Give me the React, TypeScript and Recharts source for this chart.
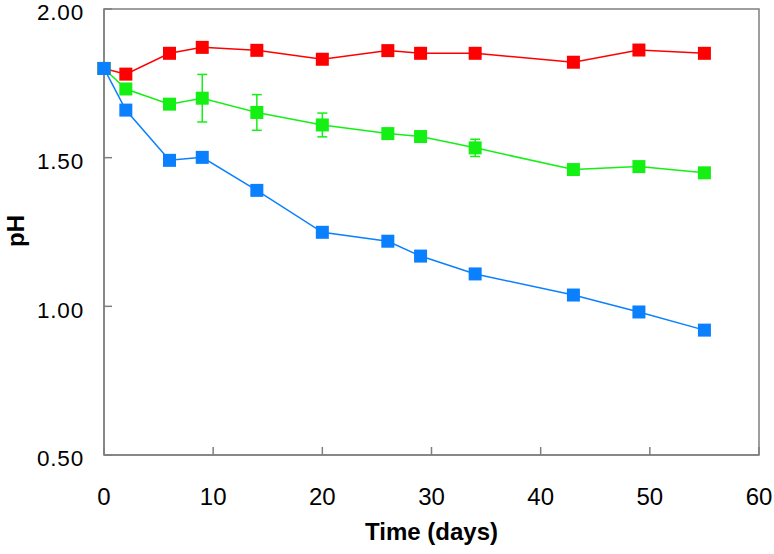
import React from 'react';
import { LineChart, Line, XAxis, YAxis, ErrorBar, ReferenceArea } from 'recharts';

const days = [0, 2, 6, 9, 14, 20, 26, 29, 34, 43, 49, 55];
const redPH = [1.8, 1.781, 1.851, 1.871, 1.861, 1.831, 1.86, 1.851, 1.851, 1.821, 1.862, 1.851];
const greenPH = [1.8, 1.731, 1.68, 1.7, 1.652, 1.61, 1.581, 1.571, 1.533, 1.46, 1.47, 1.449];
const greenErr = [0, 0, 0, 0.08, 0.06, 0.04, 0, 0, 0.029, 0, 0, 0];
const bluePH = [1.8, 1.66, 1.491, 1.501, 1.39, 1.249, 1.219, 1.169, 1.109, 1.038, 0.981, 0.92];
const xTicks = [0, 10, 20, 30, 40, 50, 60];
const yTicks = [0.5, 1.0, 1.5, 2.0];

const data = days.map((d, i) => ({
  day: d,
  red: redPH[i],
  green: greenPH[i],
  greenErr: greenErr[i],
  blue: bluePH[i],
}));

const RED = '#FF0000';
const GREEN = '#14F014';
const BLUE = '#0A80FF';
const FRAME = '#7f7f7f';
const FONT = '"Liberation Sans", Arial, sans-serif';

const square = (color: string) => (props: any) => {
  const { cx, cy, index } = props;
  if (cx == null || cy == null) return <g key={`d-${index}`} />;
  return <rect key={`d-${color}-${index}`} x={cx - 6.5} y={cy - 6.5} width={13} height={13} fill={color} />;
};

const YTick = (props: any) => {
  const { x, y, payload } = props;
  return (
    <g>
      <line x1={x} y1={y} x2={x + 8} y2={y} stroke={FRAME} strokeWidth={1.5} />
      <text x={x - 20} y={y + 11.2} textAnchor="end" fontSize={22.5} letterSpacing={0.8} fontFamily={FONT} fill="#000">
        {Number(payload.value).toFixed(2)}
      </text>
    </g>
  );
};

const XTick = (props: any) => {
  const { x, y, payload } = props;
  return (
    <g>
      <line x1={x} y1={y} x2={x} y2={y - 8} stroke={FRAME} strokeWidth={1.5} />
      <text x={x} y={y + 50} textAnchor="middle" fontSize={24} fontFamily={FONT} fill="#000">
        {payload.value}
      </text>
    </g>
  );
};

const xLabel = (props: any) => {
  const vb = props.viewBox || {};
  return (
    <text x={vb.x + vb.width / 2} y={vb.y + 85} textAnchor="middle" fontSize={24} fontWeight="bold" fontFamily={FONT} fill="#000">
      Time (days)
    </text>
  );
};

const yLabel = (props: any) => {
  const vb = props.viewBox || {};
  const cx = vb.x + 24;
  const cy = vb.y + vb.height / 2 - 1;
  return (
    <text x={cx} y={cy} transform={`rotate(-90, ${cx}, ${cy})`} textAnchor="middle" fontSize={24} fontWeight="bold" fontFamily={FONT} fill="#000">
      pH
    </text>
  );
};

export default function App() {
  return (
    <div style={{ position: 'absolute', left: 0, top: 0, width: 774, height: 554, background: '#fff' }}>
      <LineChart width={774} height={554} data={data} margin={{ top: 9, right: 15, bottom: 0, left: 0 }}>
        <XAxis
          dataKey="day"
          type="number"
          domain={[0, 60]}
          ticks={xTicks}
          height={99}
          tickSize={0}
          tickMargin={0}
          tickLine={false}
          axisLine={{ stroke: FRAME, strokeWidth: 1.5 }}
          tick={<XTick />}
          label={xLabel}
          interval={0}
        />
        <YAxis
          type="number"
          domain={[0.5, 2]}
          ticks={yTicks}
          width={104}
          tickSize={0}
          tickMargin={0}
          tickLine={false}
          axisLine={{ stroke: FRAME, strokeWidth: 1.5 }}
          tick={<YTick />}
          label={yLabel}
          interval={0}
        />
        <ReferenceArea x1={0} x2={60} y1={0.5} y2={2} fill="none" stroke={FRAME} strokeWidth={1.5} ifOverflow="visible" />
        <Line dataKey="red" stroke={RED} strokeWidth={1.5} dot={square(RED)} isAnimationActive={false} />
        <Line dataKey="green" stroke={GREEN} strokeWidth={1.5} dot={square(GREEN)} isAnimationActive={false}>
          <ErrorBar dataKey="greenErr" width={5} stroke={GREEN} strokeWidth={1.5} direction="y" />
        </Line>
        <Line dataKey="blue" stroke={BLUE} strokeWidth={1.5} dot={square(BLUE)} isAnimationActive={false} />
      </LineChart>
    </div>
  );
}
